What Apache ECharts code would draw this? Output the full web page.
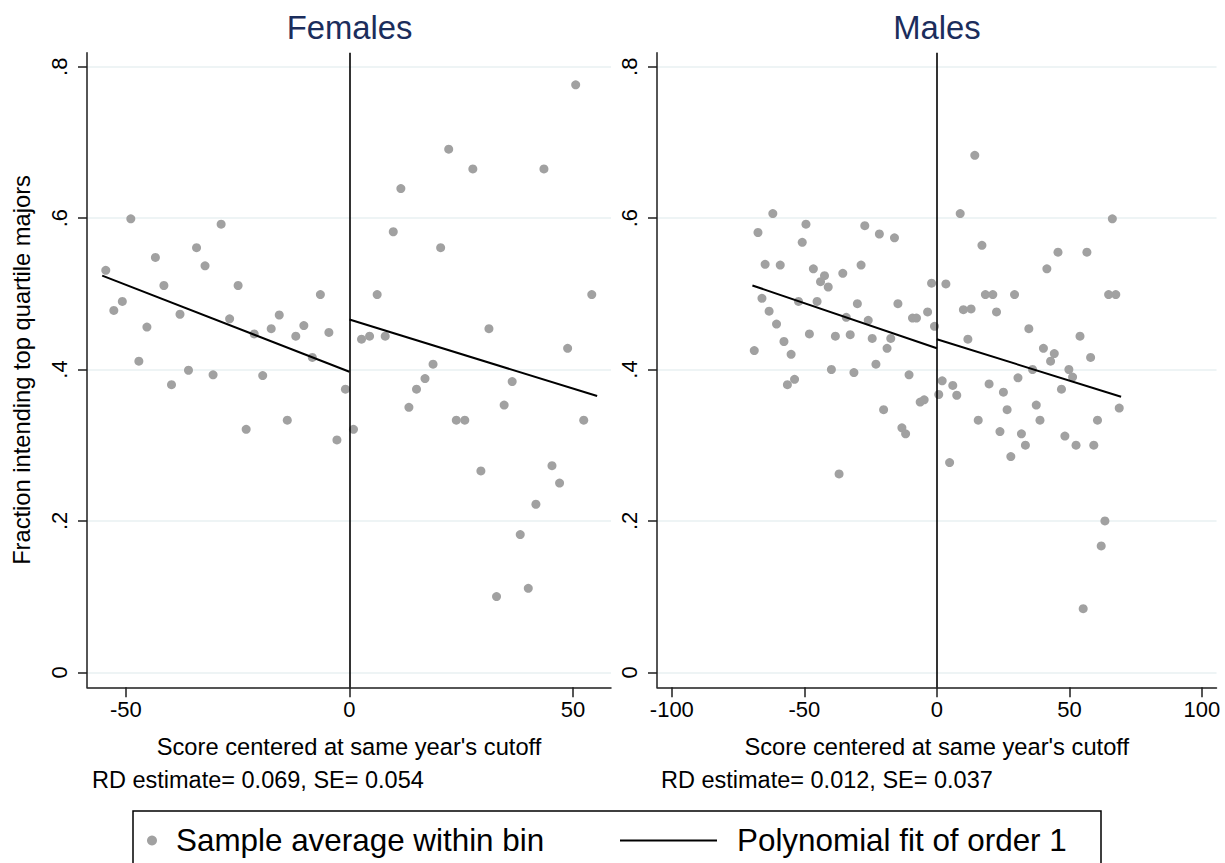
<!DOCTYPE html>
<html>
<head>
<meta charset="utf-8">
<title>Fraction intending top quartile majors</title>
<script src="https://cdn.jsdelivr.net/npm/echarts@6/dist/echarts.min.js"></script>
<style>
  html, body { margin: 0; padding: 0; background: #ffffff; }
  #chart { width: 1225px; height: 863px; }
</style>
</head>
<body>
<div id="chart"></div>
<script>
// ---- data -------------------------------------------------------------
const panelTitles = ['Females', 'Males'];
const xAxisTitle = "Score centered at same year's cutoff";
const yAxisTitle = 'Fraction intending top quartile majors';
const rdNotes = ['RD estimate= 0.069, SE= 0.054', 'RD estimate= 0.012, SE= 0.037'];
const legendNames = ['Sample average within bin', 'Polynomial fit of order 1'];

const yTickValues = [0, 0.2, 0.4, 0.6, 0.8];
const yTickLabels = ['0', '.2', '.4', '.6', '.8'];
const femaleXTicks = [-50, 0, 50];
const maleXTicks = [-100, -50, 0, 50, 100];

// bin averages, females
const femaleBinX = [-54.5, -52.7, -50.8, -48.9, -47.1, -45.3, -43.4, -41.5, -39.8, -37.9,
  -36.0, -34.2, -32.3, -30.5, -28.7, -26.8, -24.9, -23.1, -21.3, -19.4,
  -17.5, -15.7, -13.9, -12.0, -10.2, -8.3, -6.5, -4.6, -2.8, -0.9,
  0.9, 2.7, 4.5, 6.2, 8.0, 9.8, 11.5, 13.3, 15.0, 16.9,
  18.7, 20.4, 22.2, 23.9, 25.8, 27.6, 29.4, 31.2, 32.9, 34.6,
  36.4, 38.2, 40.0, 41.7, 43.5, 45.3, 47.0, 48.8, 50.6, 52.4, 54.2];
const femaleBinY = [0.531, 0.478, 0.490, 0.599, 0.411, 0.456, 0.548, 0.511, 0.380, 0.473,
  0.399, 0.561, 0.537, 0.393, 0.592, 0.467, 0.511, 0.321, 0.447, 0.392,
  0.454, 0.472, 0.333, 0.444, 0.458, 0.416, 0.499, 0.449, 0.307, 0.374,
  0.321, 0.440, 0.444, 0.499, 0.444, 0.582, 0.639, 0.350, 0.374, 0.388,
  0.407, 0.561, 0.691, 0.333, 0.333, 0.665, 0.266, 0.454, 0.100, 0.353,
  0.384, 0.182, 0.111, 0.222, 0.665, 0.273, 0.250, 0.428, 0.776, 0.333, 0.499];

// bin averages, males
const maleBinX = [-68.9, -67.5, -66.0, -64.8, -63.3, -61.9, -60.5, -59.1, -57.7, -56.4,
  -55.0, -53.7, -52.2, -50.8, -49.4, -48.1, -46.6, -45.2, -43.9, -42.4,
  -41.0, -39.8, -38.3, -36.9, -35.5, -34.2, -32.7, -31.3, -30.0, -28.6,
  -27.2, -25.9, -24.4, -23.0, -21.7, -20.1, -18.8, -17.4, -16.0, -14.7,
  -13.2, -11.8, -10.5, -9.2, -7.7, -6.3, -4.8, -3.5, -2.0, -0.9,
  0.7, 2.0, 3.4, 4.8, 6.0, 7.5, 8.8, 10.0, 11.7, 12.9,
  14.3, 15.6, 17.0, 18.3, 19.7, 21.1, 22.5, 23.8, 25.1, 26.5,
  27.9, 29.3, 30.6, 31.9, 33.4, 34.7, 36.1, 37.5, 38.9, 40.2,
  41.5, 42.9, 44.3, 45.7, 47.0, 48.3, 49.8, 51.2, 52.5, 54.0,
  55.2, 56.6, 58.0, 59.2, 60.6, 62.0, 63.4, 64.8, 66.2, 67.5, 68.8];
const maleBinY = [0.425, 0.581, 0.494, 0.539, 0.477, 0.606, 0.460, 0.538, 0.437, 0.380,
  0.420, 0.387, 0.490, 0.568, 0.592, 0.447, 0.533, 0.490, 0.516, 0.524,
  0.509, 0.400, 0.444, 0.262, 0.527, 0.469, 0.446, 0.396, 0.487, 0.538,
  0.590, 0.465, 0.441, 0.407, 0.579, 0.347, 0.428, 0.441, 0.574, 0.487,
  0.323, 0.315, 0.393, 0.468, 0.468, 0.357, 0.360, 0.476, 0.514, 0.457,
  0.367, 0.385, 0.513, 0.277, 0.379, 0.366, 0.606, 0.479, 0.440, 0.480,
  0.683, 0.333, 0.564, 0.499, 0.381, 0.499, 0.476, 0.318, 0.370, 0.347,
  0.285, 0.499, 0.389, 0.315, 0.300, 0.454, 0.400, 0.353, 0.333, 0.428,
  0.533, 0.411, 0.421, 0.555, 0.374, 0.312, 0.400, 0.390, 0.300, 0.444,
  0.084, 0.555, 0.416, 0.300, 0.333, 0.167, 0.200, 0.499, 0.599, 0.499, 0.349];

// linear fits on each side of the cutoff (endpoints)
const femaleFitLeftX = [-55.3, 0];
const femaleFitLeftY = [0.524, 0.397];
const femaleFitRightX = [0, 55.4];
const femaleFitRightY = [0.466, 0.365];
const maleFitLeftX = [-69.6, 0];
const maleFitLeftY = [0.511, 0.428];
const maleFitRightX = [0, 69.5];
const maleFitRightY = [0.440, 0.364];

// ---- chart ------------------------------------------------------------
const FONT = '"Liberation Sans", Arial, Helvetica, sans-serif';
const INK = '#000000';
const AXIS = '#1e1e1e';
const GRIDLINE = '#e8f0f2';
const DOT = '#a1a1a1';

const zip = (xs, ys) => xs.map((x, i) => [x, ys[i]]);
const yLabel = v => {
  const i = yTickValues.findIndex(t => Math.abs(t - v) < 1e-9);
  return i >= 0 ? yTickLabels[i] : '';
};

function makeXAxis(gridIndex, min, max, ticks) {
  return {
    type: 'value', gridIndex, min, max,
    axisLine: { show: true, onZero: false, lineStyle: { color: AXIS, width: 1.5 } },
    axisTick: { show: true, length: 10, customValues: ticks, lineStyle: { color: AXIS, width: 1.5 } },
    axisLabel: { customValues: ticks, fontSize: 22, margin: 11, color: INK, fontFamily: FONT },
    splitLine: { show: false },
    name: xAxisTitle, nameLocation: 'middle', nameGap: 48,
    nameTextStyle: { fontSize: 23.7, color: INK, fontFamily: FONT }
  };
}

function makeYAxis(gridIndex, withName) {
  const axis = {
    type: 'value', gridIndex, min: -0.0198, max: 0.8185,
    axisLine: { show: true, onZero: false, lineStyle: { color: AXIS, width: 1.5 } },
    axisTick: { show: true, length: 9, customValues: yTickValues, lineStyle: { color: AXIS, width: 1.5 } },
    axisLabel: { customValues: yTickValues, rotate: 90, margin: 17, fontSize: 22, color: INK,
                 fontFamily: FONT, formatter: yLabel },
    splitLine: { show: true, lineStyle: { color: GRIDLINE, width: 1.5 } }
  };
  if (withName) {
    Object.assign(axis, {
      name: yAxisTitle, nameLocation: 'middle', nameGap: 53, nameRotate: 90,
      nameTextStyle: { fontSize: 23.7, color: INK, fontFamily: FONT }
    });
  }
  return axis;
}

function panelSeries(idx, binX, binY, fitLX, fitLY, fitRX, fitRY) {
  return [
    {
      name: legendNames[0], type: 'scatter', xAxisIndex: idx, yAxisIndex: idx,
      data: zip(binX, binY), symbol: 'circle', symbolSize: 9,
      itemStyle: { color: DOT, opacity: 1 }, z: 2,
      markLine: {
        silent: true, symbol: ['none', 'none'], label: { show: false },
        lineStyle: { color: INK, width: 1.6, type: 'solid' },
        emphasis: { disabled: true },
        data: [{ xAxis: 0 }]
      }
    },
    {
      name: legendNames[1], type: 'line', xAxisIndex: idx, yAxisIndex: idx,
      data: zip(fitLX, fitLY), symbol: 'none', showSymbol: false, z: 3,
      lineStyle: { color: INK, width: 2 }, itemStyle: { color: INK }
    },
    {
      name: legendNames[1], type: 'line', xAxisIndex: idx, yAxisIndex: idx,
      data: zip(fitRX, fitRY), symbol: 'none', showSymbol: false, z: 3,
      lineStyle: { color: INK, width: 2 }, itemStyle: { color: INK }
    }
  ];
}

const chart = echarts.init(document.getElementById('chart'), null, { renderer: 'svg' });

chart.setOption({
  animation: false,
  backgroundColor: '#ffffff',
  textStyle: { fontFamily: FONT },
  title: [
    { text: panelTitles[0], left: 349.5, top: 11, textAlign: 'center', padding: 0,
      textStyle: { fontSize: 32.8, fontWeight: 'normal', color: '#1b2d5c', fontFamily: FONT } },
    { text: panelTitles[1], left: 937, top: 11, textAlign: 'center', padding: 0,
      textStyle: { fontSize: 32.8, fontWeight: 'normal', color: '#1b2d5c', fontFamily: FONT } },
    { text: rdNotes[0], left: 92, top: 768, padding: 0,
      textStyle: { fontSize: 23.5, fontWeight: 'normal', color: INK, fontFamily: FONT } },
    { text: rdNotes[1], left: 661, top: 768, padding: 0,
      textStyle: { fontSize: 23.5, fontWeight: 'normal', color: INK, fontFamily: FONT } }
  ],
  legend: [
    {
      data: [{ name: legendNames[0], icon: 'circle' }],
      left: 147, top: 825, padding: 0, itemWidth: 10, itemHeight: 10, selectedMode: false,
      textStyle: { fontSize: 31.4, color: INK, fontFamily: FONT, padding: [0, 0, 0, 14] }
    },
    {
      data: [{ name: legendNames[1], icon: 'rect' }],
      left: 620, top: 825, padding: 0, itemWidth: 97, itemHeight: 2, selectedMode: false,
      itemStyle: { color: INK, borderWidth: 0 },
      textStyle: { fontSize: 31.4, color: INK, fontFamily: FONT, padding: [0, 0, 0, 15] }
    }
  ],
  graphic: [
    { type: 'rect', silent: true, z: 10,
      shape: { x: 133, y: 811, width: 968, height: 80 },
      style: { fill: 'none', stroke: INK, lineWidth: 1.5 } }
  ],
  grid: [
    { left: 87, right: 614, top: 52.7, bottom: 175.7, containLabel: false },
    { left: 657, right: 8.5, top: 52.7, bottom: 175.7, containLabel: false }
  ],
  xAxis: [
    makeXAxis(0, -58.7, 58.5, femaleXTicks),
    makeXAxis(1, -105.6, 105.5, maleXTicks)
  ],
  yAxis: [
    makeYAxis(0, true),
    makeYAxis(1, false)
  ],
  series: [
    ...panelSeries(0, femaleBinX, femaleBinY, femaleFitLeftX, femaleFitLeftY, femaleFitRightX, femaleFitRightY),
    ...panelSeries(1, maleBinX, maleBinY, maleFitLeftX, maleFitLeftY, maleFitRightX, maleFitRightY)
  ]
});
</script>
</body>
</html>
